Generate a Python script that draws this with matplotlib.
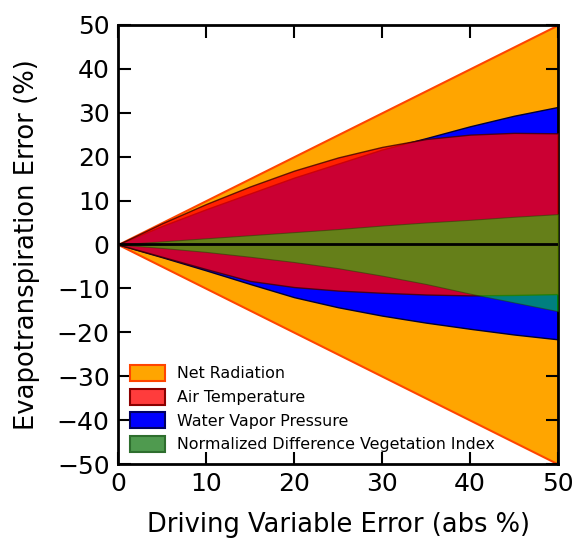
import matplotlib
matplotlib.use("Agg")
import matplotlib.pyplot as plt
from matplotlib.patches import Patch

# Driving variable error (abs %)
x = [0, 5, 10, 15, 20, 25, 30, 35, 40, 45, 50]

# Net Radiation envelope
net_upper = [0, 5, 10, 15, 20, 25, 30, 35, 40, 45, 50]
net_lower = [0, -5, -10, -15, -20, -25, -30, -35, -40, -45, -50]

# Air Temperature envelope
air_upper = [0, 4.8, 9.2, 13.2, 16.8, 19.8, 22.2, 24.0, 25.0, 25.4, 25.3]
air_lower = [0, -2.8, -5.6, -8.3, -9.7, -10.5, -11.0, -11.4, -11.6, -11.5, -11.3]

# Water Vapor Pressure envelope
wvp_upper = [0, 4.2, 8.0, 11.6, 15.2, 18.4, 21.6, 24.2, 26.9, 29.3, 31.3]
wvp_lower = [0, -2.9, -5.9, -9.0, -12.0, -14.3, -16.2, -17.8, -19.2, -20.5, -21.6]

# NDVI envelope
ndvi_upper = [0, 0.7, 1.4, 2.1, 2.8, 3.5, 4.3, 5.0, 5.6, 6.3, 6.9]
ndvi_lower = [0, -0.8, -1.7, -2.8, -4.0, -5.4, -7.1, -9.0, -11.2, -13.2, -15.2]

labels = ["Net Radiation", "Air Temperature", "Water Vapor Pressure",
          "Normalized Difference Vegetation Index"]
x_ticks = [0, 10, 20, 30, 40, 50]
y_ticks = [-50, -40, -30, -20, -10, 0, 10, 20, 30, 40, 50]

fig = plt.figure(figsize=(5.73, 5.39), dpi=100)
ax = fig.add_axes([0.206, 0.139, 0.768, 0.815])

ax.fill_between(x, net_lower, net_upper, facecolor="orange", edgecolor="orangered", linewidth=1.5, zorder=1)
ax.fill_between(x, wvp_lower, wvp_upper, facecolor="blue", edgecolor="#000033", linewidth=1.0, zorder=2)
ax.fill_between(x, air_lower, air_upper, facecolor="red", alpha=0.8, edgecolor="#400000", linewidth=1.0, zorder=3)
ax.fill_between(x, ndvi_lower, ndvi_upper, facecolor="lime", alpha=0.5, edgecolor="#204000", linewidth=0.8, zorder=4)
ax.axhline(0, color="black", linewidth=2, zorder=5)

ax.set_xlim(0, 50)
ax.set_ylim(-50, 50)
ax.set_xticks(x_ticks)
ax.set_yticks(y_ticks)
ax.set_yticklabels(["\u2212" + str(-v) if v < 0 else str(v) for v in y_ticks])
ax.tick_params(direction="in", top=True, right=True, length=9, width=1.5, labelsize=18, pad=6)
for s in ax.spines.values():
    s.set_linewidth(2)

ax.set_xlabel("Driving Variable Error (abs %)", fontsize=18.5, labelpad=11)
ax.set_ylabel("Evapotranspiration Error (%)", fontsize=18.6, labelpad=12)

handles = [
    Patch(facecolor="orange", edgecolor="orangered", linewidth=1.5),
    Patch(facecolor="#ff3c3c", edgecolor="#8b0000", linewidth=1.5),
    Patch(facecolor="blue", edgecolor="#000060", linewidth=1.5),
    Patch(facecolor="#4f9a4f", edgecolor="#2e6e2e", linewidth=1.5),
]
ax.legend(handles, labels, loc="lower left", frameon=False, fontsize=11.4,
          handlelength=2.2, handleheight=1.2, labelspacing=0.45, handletextpad=0.8,
          borderaxespad=0.35)

fig.savefig("out.png", dpi=100)
